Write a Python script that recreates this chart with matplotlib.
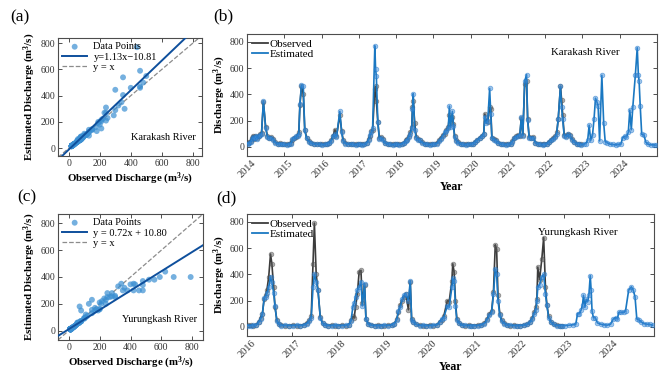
import numpy as np
import matplotlib
matplotlib.use('Agg')
import matplotlib.pyplot as plt
from matplotlib.lines import Line2D

plt.rcParams['font.family'] = ['Liberation Serif', 'DejaVu Serif']
plt.rcParams['mathtext.fontset'] = 'custom'
plt.rcParams['mathtext.rm'] = 'Liberation Serif'
plt.rcParams['mathtext.it'] = 'Liberation Serif:italic'
plt.rcParams['mathtext.bf'] = 'Liberation Serif:bold'

# ---------------- Karakash River (decimal year, observed, estimated) ----------------
kar_t = [
    2014.02, 2014.06, 2014.10, 2014.13, 2014.16, 2014.19, 2014.22, 2014.25, 2014.28, 2014.31, 2014.35, 2014.39, 2014.44, 2014.50, 2014.55, 2014.60, 2014.65, 2014.70, 2014.76, 2014.82, 2014.88, 2014.94,
    2015.00, 2015.06, 2015.12, 2015.18, 2015.22, 2015.27, 2015.32, 2015.36, 2015.39, 2015.42, 2015.46, 2015.51, 2015.55, 2015.60, 2015.66, 2015.72, 2015.80, 2015.88, 2015.95,
    2016.02, 2016.08, 2016.14, 2016.20, 2016.26, 2016.31, 2016.36, 2016.40, 2016.49, 2016.54, 2016.58, 2016.64, 2016.70, 2016.78, 2016.85, 2016.92, 2016.97,
    2017.03, 2017.09, 2017.15, 2017.21, 2017.26, 2017.30, 2017.34, 2017.37, 2017.43, 2017.45, 2017.47, 2017.51, 2017.55, 2017.59, 2017.64, 2017.70, 2017.77, 2017.84, 2017.91, 2017.97,
    2018.03, 2018.09, 2018.15, 2018.21, 2018.26, 2018.30, 2018.34, 2018.38, 2018.42, 2018.44, 2018.46, 2018.50, 2018.54, 2018.58, 2018.63, 2018.70, 2018.77, 2018.84, 2018.91, 2018.97,
    2019.03, 2019.09, 2019.15, 2019.20, 2019.25, 2019.30, 2019.35, 2019.40, 2019.43, 2019.46, 2019.51, 2019.54, 2019.57, 2019.62, 2019.67, 2019.73, 2019.80, 2019.87, 2019.94,
    2020.00, 2020.06, 2020.12, 2020.18, 2020.24, 2020.30, 2020.35, 2020.38, 2020.42, 2020.46, 2020.51, 2020.54, 2020.57, 2020.62, 2020.68, 2020.74, 2020.81, 2020.88, 2020.95,
    2021.01, 2021.07, 2021.12, 2021.17, 2021.22, 2021.27, 2021.32, 2021.36, 2021.40, 2021.45, 2021.50, 2021.53, 2021.57, 2021.62, 2021.68, 2021.74, 2021.80, 2021.87, 2021.93, 2021.98,
    2022.04, 2022.10, 2022.16, 2022.22, 2022.27, 2022.31, 2022.35, 2022.41, 2022.44, 2022.47, 2022.51, 2022.56, 2022.61, 2022.66, 2022.72, 2022.78, 2022.85, 2022.92, 2022.97,
    2023.03, 2023.09, 2023.14, 2023.18, 2023.22, 2023.27, 2023.31, 2023.35, 2023.39, 2023.42, 2023.46, 2023.52, 2023.57, 2023.61, 2023.67, 2023.74, 2023.82, 2023.90, 2023.96,
    2024.03, 2024.08, 2024.13, 2024.18, 2024.23, 2024.27, 2024.31, 2024.35, 2024.42, 2024.47, 2024.50, 2024.52, 2024.55, 2024.59, 2024.65, 2024.70, 2024.77, 2024.84, 2024.91, 2024.97,
]
kar_obs = [
    28, 35, 45, 70, 85, 60, 80, 75, 65, 85, 95, 105, 340, 150, 80, 70, 75, 60, 35, 25, 28, 22,
    20, 18, 22, 30, 55, 70, 75, 90, 110, 320, 460, 400, 130, 70, 45, 30, 25, 20, 22,
    18, 20, 25, 30, 50, 85, 130, 80, 240, 120, 50, 30, 20, 25, 20, 18, 20,
    22, 18, 20, 30, 60, 80, 120, 130, 440, 460, 350, 190, 70, 75, 60, 30, 22, 20, 18, 20,
    22, 18, 25, 30, 50, 60, 80, 110, 150, 300, 350, 180, 75, 60, 55, 35, 25, 20, 18, 20,
    22, 30, 50, 70, 90, 100, 130, 150, 240, 210, 230, 175, 80, 50, 35, 25, 20, 18, 22,
    20, 25, 40, 55, 70, 85, 100, 250, 200, 190, 300, 290, 70, 60, 50, 30, 22, 20, 18,
    20, 25, 45, 70, 80, 90, 85, 220, 90, 480, 500, 210, 75, 70, 75, 30, 25, 22, 18, 20,
    25, 40, 55, 70, 80, 110, 210, 460, 360, 240, 90, 80, 100, 90, 60, 40, 25, 20, 18,
]
kar_est = [
    25, 30, 40, 60, 75, 70, 65, 85, 60, 80, 90, 100, 350, 145, 75, 65, 70, 55, 30, 22, 25, 20,
    18, 15, 20, 25, 60, 65, 80, 85, 100, 325, 470, 460, 125, 65, 40, 28, 20, 18, 20,
    15, 18, 22, 28, 45, 80, 95, 75, 270, 110, 45, 25, 18, 22, 18, 15, 18,
    20, 15, 18, 28, 50, 90, 110, 140, 770, 590, 540, 190, 60, 70, 55, 28, 20, 18, 15, 18,
    20, 15, 22, 28, 45, 55, 75, 100, 140, 290, 405, 130, 70, 55, 50, 30, 22, 18, 16, 18,
    20, 25, 45, 60, 80, 110, 120, 140, 310, 150, 270, 160, 75, 45, 30, 22, 18, 15, 20,
    18, 22, 35, 50, 65, 80, 95, 230, 180, 200, 445, 250, 65, 55, 45, 28, 20, 18, 16,
    18, 22, 40, 65, 75, 85, 90, 225, 85, 500, 550, 205, 70, 65, 70, 28, 22, 20, 15, 18,
    22, 35, 50, 60, 75, 100, 215, 460, 300, 210, 85, 75, 95, 80, 55, 35, 22, 18, 15,
    20, 25, 50, 165, 50, 90, 210, 370, 340, 310, 45, 545, 180, 40, 30, 20, 18, 15, 18,
    20, 70, 80, 75, 110, 280, 130, 300, 550, 755, 550, 500, 310, 95, 90, 35, 18, 15, 15, 12,
]

# ---------------- Yurungkash River ----------------
yur_t = [
    2016.02, 2016.08, 2016.14, 2016.20, 2016.26, 2016.30, 2016.34, 2016.38, 2016.41, 2016.44, 2016.48, 2016.52, 2016.55, 2016.59, 2016.62, 2016.66, 2016.70, 2016.76, 2016.84, 2016.92,
    2017.02, 2017.10, 2017.18, 2017.25, 2017.32, 2017.38, 2017.42, 2017.46, 2017.49, 2017.53, 2017.57, 2017.62, 2017.67, 2017.73, 2017.80, 2017.88, 2017.95,
    2018.02, 2018.10, 2018.18, 2018.25, 2018.30, 2018.34, 2018.37, 2018.40, 2018.44, 2018.48, 2018.52, 2018.55, 2018.60, 2018.63, 2018.68, 2018.74, 2018.82, 2018.90, 2018.96,
    2019.04, 2019.12, 2019.20, 2019.26, 2019.31, 2019.35, 2019.39, 2019.43, 2019.47, 2019.51, 2019.57, 2019.61, 2019.64, 2019.68, 2019.74, 2019.82, 2019.90, 2019.96,
    2020.04, 2020.12, 2020.20, 2020.26, 2020.31, 2020.35, 2020.43, 2020.47, 2020.53, 2020.55, 2020.58, 2020.61, 2020.64, 2020.69, 2020.75, 2020.82, 2020.90, 2020.96,
    2021.02, 2021.10, 2021.18, 2021.25, 2021.31, 2021.36, 2021.41, 2021.45, 2021.49, 2021.52, 2021.55, 2021.59, 2021.63, 2021.69, 2021.75, 2021.82, 2021.90, 2021.96,
    2022.04, 2022.12, 2022.20, 2022.26, 2022.31, 2022.35, 2022.39, 2022.41, 2022.43, 2022.47, 2022.52, 2022.56, 2022.60, 2022.63, 2022.67, 2022.72, 2022.78, 2022.85, 2022.92, 2022.97,
    2023.04, 2023.12, 2023.20, 2023.27, 2023.31, 2023.35, 2023.39, 2023.42, 2023.44, 2023.47, 2023.50, 2023.53, 2023.56, 2023.59, 2023.61, 2023.63, 2023.66, 2023.70, 2023.75, 2023.82, 2023.90, 2023.96,
    2024.04, 2024.10, 2024.15, 2024.19, 2024.22, 2024.28, 2024.33, 2024.37, 2024.44, 2024.50, 2024.54, 2024.58, 2024.62, 2024.66, 2024.71, 2024.77, 2024.84, 2024.91, 2024.97,
]
yur_obs = [
    12, 12, 10, 15, 40, 70, 100, 215, 240, 280, 380, 555, 480, 300, 150, 50, 20, 12, 10, 10,
    12, 10, 10, 15, 30, 50, 80, 480, 790, 400, 280, 75, 30, 15, 10, 12, 10,
    10, 12, 10, 15, 50, 80, 70, 150, 250, 420, 430, 180, 320, 60, 25, 15, 10, 12, 10,
    10, 12, 15, 25, 60, 110, 170, 200, 230, 250, 130, 340, 60, 40, 20, 12, 10, 10,
    12, 10, 15, 40, 55, 80, 200, 190, 350, 480, 420, 200, 60, 30, 15, 10, 12, 10,
    10, 12, 15, 30, 60, 100, 120, 265, 625, 590, 240, 100, 50, 30, 15, 10, 12, 10,
    10, 12, 20, 40, 70, 110, 150, 210, 455, 360, 520, 680, 300, 170, 80, 40, 20, 12, 10, 10,
]
yur_est = [
    10, 10, 12, 12, 35, 60, 95, 220, 230, 255, 300, 380, 340, 260, 155, 45, 22, 10, 12, 10,
    10, 12, 10, 12, 25, 45, 70, 300, 400, 345, 280, 70, 26, 12, 10, 10, 12,
    10, 10, 12, 15, 45, 150, 180, 230, 280, 300, 345, 160, 330, 60, 20, 12, 10, 10, 10,
    12, 10, 15, 25, 55, 120, 150, 210, 240, 250, 200, 350, 55, 35, 18, 10, 12, 10,
    10, 12, 15, 35, 60, 70, 160, 150, 300, 370, 350, 160, 55, 28, 12, 12, 10, 10,
    10, 10, 15, 25, 55, 90, 110, 250, 440, 400, 200, 90, 45, 25, 12, 12, 10, 10,
    10, 12, 18, 35, 60, 100, 130, 200, 300, 320, 380, 400, 250, 170, 70, 35, 18, 10, 10, 10,
    10, 12, 15, 20, 100, 100, 130, 170, 240, 150, 210, 190, 240, 390, 280, 120, 70, 70, 30, 20, 15, 12,
    20, 60, 70, 60, 110, 110, 110, 120, 280, 305, 280, 230, 60, 55, 40, 25, 20, 18, 12,
]

# fitted regression coefficients (slope, intercept)
kar_fit = (1.13, -10.81)
yur_fit = (0.72, 10.80)
kar_fit_label = 'y=1.13x\u221210.81'
yur_fit_label = 'y = 0.72x + 10.80'

kar_years = list(range(2014, 2026))
yur_years = list(range(2016, 2026))
value_ticks = [0, 200, 400, 600, 800]

# ---------------- style ----------------
EST = '#1a78c2'
OBS = '#3c3c3c'
SC = '#3b8fd2'
FIT = '#0e4f9c'
DIAG = '#8c8c8c'
SPINE = '#4d4d4d'

fig = plt.figure(figsize=(6.67, 3.77), dpi=100)
W, H = 667.0, 377.0


def add_ax(l, r, t, b):
    return fig.add_axes([l / W, 1 - b / H, (r - l) / W, (b - t) / H])


def style(ax):
    for s in ax.spines.values():
        s.set_color(SPINE)
        s.set_linewidth(0.8)
    ax.tick_params(direction='in', top=True, right=True, length=3, width=0.6,
                   labelsize=7, colors='#333333', pad=2)


def scatter_panel(ax, obs, est, fit, fit_label, xlim, ylim, river):
    n = len(obs)
    ax.scatter(obs, est[:n], s=18, color=SC, alpha=0.7, edgecolors='none',
               label='Data Points', zorder=3)
    xs = np.array(xlim, dtype=float)
    ax.plot(xs, fit[0] * xs + fit[1], color=FIT, lw=1.4, label=fit_label, zorder=4)
    ax.plot(xs, xs, '--', color=DIAG, lw=0.9, label='y = x', zorder=2)
    ax.set_xlim(xlim)
    ax.set_ylim(ylim)
    ax.set_xticks(value_ticks)
    ax.set_yticks(value_ticks)
    style(ax)
    ax.set_xlabel(r'Observed Discharge (m$^{\mathbf{3}}$/s)', fontsize=7.8,
                  fontweight='bold', labelpad=2)
    ax.set_ylabel(r'Estimated Discharge (m$^{\mathbf{3}}$/s)', fontsize=7.8,
                  fontweight='bold', labelpad=2)
    ax.legend(loc='upper left', frameon=False, fontsize=7.5, handlelength=2.4,
              borderaxespad=0.2, labelspacing=0.1, handletextpad=0.6,
              borderpad=0.2)
    ax.text(0.96, 0.16, river, transform=ax.transAxes, ha='right', va='center',
            fontsize=7.5)


def ts_panel(ax, t, obs, est, years, river):
    n = len(obs)
    ax.plot(t[:n], obs, '-o', color=OBS, lw=1.2, ms=3.4,
            mfc=(0.35, 0.35, 0.35, 0.5), mec=(0.3, 0.3, 0.3, 0.55), mew=0.5, zorder=2)
    ax.plot(t, est, '-o', color=EST, lw=1.2, ms=3.4,
            mfc=(0.25, 0.55, 0.85, 0.5), mec=(0.1, 0.45, 0.78, 0.55), mew=0.5, zorder=3)
    ax.set_xlim(years[0], years[-1])
    ax.set_ylim(-70, 860)
    ax.set_xticks(years[:-1])
    ax.set_xticklabels([str(y) for y in years[:-1]], rotation=45, ha='center',
                       fontsize=7.5)
    ax.set_yticks(value_ticks)
    style(ax)
    ax.tick_params(axis='x', labelsize=7.5)
    ax.set_xlabel('Year', fontsize=8.5, fontweight='bold', labelpad=1)
    ax.set_ylabel(r'Discharge (m$^{\mathbf{3}}$/s)', fontsize=7.8, fontweight='bold',
                  labelpad=1)
    handles = [Line2D([], [], color=OBS, lw=1.3), Line2D([], [], color=EST, lw=1.3)]
    ax.legend(handles, ['Observed', 'Estimated'], loc='upper left', frameon=False,
              fontsize=8, handlelength=1.4, borderaxespad=0.3, labelspacing=0.05,
              handletextpad=0.15, borderpad=0.15)
    ax.text(0.91, 0.85, river, transform=ax.transAxes, ha='right', va='center',
            fontsize=7.8)


ax_a = add_ax(58, 202, 38, 156)
scatter_panel(ax_a, kar_obs, kar_est, kar_fit, kar_fit_label, (-70, 860), (-60, 840),
              'Karakash River')
ax_b = add_ax(247, 657, 34, 156)
ts_panel(ax_b, kar_t, kar_obs, kar_est, kar_years, 'Karakash River')
ax_c = add_ax(58, 203, 214, 340)
scatter_panel(ax_c, yur_obs, yur_est, yur_fit, yur_fit_label, (-70, 870), (-70, 870),
              'Yurungkash River')
ax_d = add_ax(247, 654, 214, 336)
ts_panel(ax_d, yur_t, yur_obs, yur_est, yur_years, 'Yurungkash River')

for lab, x, y in [('(a)', 10, 17), ('(b)', 213, 16), ('(c)', 17, 197), ('(d)', 216, 198)]:
    fig.text(x / W, 1 - y / H, lab, fontsize=12.5, ha='left', va='center')

fig.savefig('out.png', dpi=100)
